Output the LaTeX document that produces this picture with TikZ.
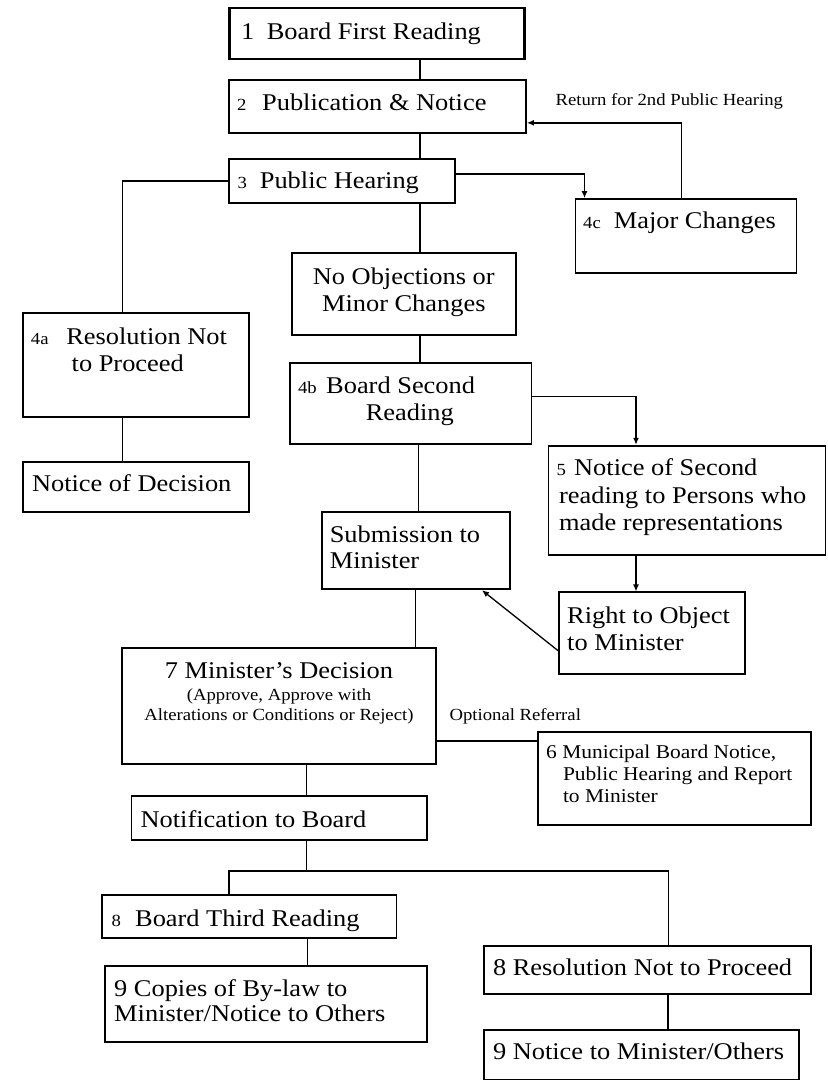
\documentclass[tikz,border=0pt]{standalone}
\usepackage{fontspec}
\setmainfont{Liberation Serif}[FakeStretch=1.1]
\usetikzlibrary{fit,arrows.meta}
\newcommand\bigf{\fontsize{24}{27.5}\selectfont}
\newcommand\midf{\fontsize{19.5}{22}\selectfont}
\newcommand\smf{\fontsize{17}{20}\selectfont}
\begin{document}
\begin{tikzpicture}[x=1pt,y=-1pt,
  box/.style={draw, line width=1.8pt, inner sep=0pt},
  con/.style={line width=1.3pt},
  arr/.style={con, -{Latex[length=7pt,width=6pt]}},
  txt/.style={inner sep=0pt, anchor=base west, font=\bigf},
  ctxt/.style={inner sep=0pt, anchor=base, font=\bigf},
  stxt/.style={inner sep=0pt, anchor=base west, font=\smf},
  mtxt/.style={inner sep=0pt, anchor=base west, font=\midf}]
\useasboundingbox (0,0) rectangle (827,1081);
% boxes
\node[box, line width=2.4pt, fit={(229.5,8.3) (524.6,59.3)}] (b1) {};
\node[box, fit={(229,80) (526,132.7)}] (b2) {};
\node[box, fit={(229,159) (455,203)}] (b3) {};
\node[box, fit={(575.5,199) (796.5,272.7)}] (b4c) {};
\node[box, fit={(292,253.3) (515.6,335)}] (bno) {};
\node[box, fit={(22.8,313.3) (249,417.3)}] (b4a) {};
\node[box, fit={(22.8,461.7) (249,512.3)}] (bnd) {};
\node[box, fit={(290,363) (531.5,444.3)}] (b4b) {};
\node[box, fit={(548.5,445.7) (825.5,555)}] (b5) {};
\node[box, fit={(321.7,512.3) (509.8,589.3)}] (bsub) {};
\node[box, fit={(559,592.3) (744.6,674.3)}] (bright) {};
\node[box, fit={(122,648.3) (436,764.3)}] (b7) {};
\node[box, fit={(538,731.7) (810.8,825)}] (b6) {};
\node[box, fit={(131.4,796) (427,840)}] (bnot) {};
\node[box, fit={(101.7,895) (396.4,938.3)}] (b8a) {};
\node[box, fit={(105,965.7) (427,1041.7)}] (b9a) {};
\node[box, fit={(483.8,946) (810.8,994)}] (b8b) {};
\node[box, fit={(483.8,1030) (798.6,1079.5)}] (b9b) {};
% texts
\node[txt] (t1) at (241,39.3) {1\hspace{12.4pt}Board First Reading};
\node[txt] (t2) at (237,110) {{\smf 2}\hspace{15.6pt}Publication \& Notice};
\node[stxt] (tret) at (555.4,105) {Return for 2nd Public Hearing};
\node[txt] (t3) at (237.4,188.3) {{\smf 3}\hspace{12.9pt}Public Hearing};
\node[txt] (t4c) at (583,228.3) {{\smf 4c}\hspace{13pt}Major Changes};
\node[ctxt] (tno1) at (403.8,284) {No Objections or};
\node[ctxt] (tno2) at (403.8,311.7) {Minor Changes};
\node[txt] (t4a1) at (30.7,344) {{\smf 4a}\hspace{17.8pt}Resolution Not};
\node[txt] (t4a2) at (71.5,371.7) {to Proceed};
\node[txt] (t4b1) at (297.8,393.3) {{\smf 4b}\hspace{9.5pt}Board Second};
\node[txt] (t4b2) at (365.6,420) {Reading};
\node[txt] (tnd) at (31.8,491.7) {Notice of Decision};
\node[txt] (t51) at (556.4,475) {{\smf 5}\hspace{8.2pt}Notice of Second};
\node[txt] (t52) at (559,503.3) {reading to Persons who};
\node[txt] (t53) at (559,530) {made representations};
\node[txt] (ts1) at (329.6,542.3) {Submission to};
\node[txt] (ts2) at (329.6,568.3) {Minister};
\node[txt] (tr1) at (567,623.3) {Right to Object};
\node[txt] (tr2) at (567,650.7) {to Minister};
\node[ctxt] (t71) at (279,678.3) {7 Minister’s Decision};
\node[ctxt, font=\smf] (t72) at (279,700) {(Approve, Approve with};
\node[ctxt, font=\smf] (t73) at (279,720) {Alterations or Conditions or Reject)};
\node[stxt] (topt) at (449.4,720) {Optional Referral};
\node[mtxt] (t61) at (546,758.3) {6 Municipal Board Notice,};
\node[mtxt] (t62) at (562.8,780) {Public Hearing and Report};
\node[mtxt] (t63) at (562.8,802.7) {to Minister};
\node[txt] (tnot) at (140.4,827) {Notification to Board};
\node[txt] (t8a) at (111.3,926) {{\smf 8}\hspace{14.3pt}Board Third Reading};
\node[txt] (t9a1) at (114,996.7) {9 Copies of By-law to};
\node[txt] (t9a2) at (114,1021.7) {Minister/Notice to Others};
\node[txt] (t8b) at (492.8,975) {8 Resolution Not to Proceed};
\node[txt] (t9b) at (492.8,1059.3) {9 Notice to Minister/Others};
% helper coordinates
\coordinate (v420) at (420,0);
\coordinate (v122) at (122.5,0);
\coordinate (v584) at (584.5,0);
\coordinate (v681) at (681.5,0);
\coordinate (v636) at (636,0);
\coordinate (v418) at (418.6,0);
\coordinate (v482) at (482,0);
\coordinate (v416) at (415.5,0);
\coordinate (v306) at (306.3,0);
\coordinate (v229) at (229,0);
\coordinate (v669) at (668.8,0);
\coordinate (v307) at (307.4,0);
\coordinate (v668) at (668,0);
\coordinate (h741) at (0,741);
\coordinate (j) at (306.3,871);
% connectors
\draw[con] (b1.south -| v420) -- (b2.north -| v420);
\draw[con] (b2.south -| v420) -- (b3.north -| v420);
\draw[con] (b3.south -| v420) -- (bno.north -| v420);
\draw[con] (b3.west) -| (b4a.north -| v122);
\draw[arr] ([yshift=7pt]b3.east) -| (b4c.north -| v584);
\draw[arr] (b4c.north -| v681) |- ([yshift=-16.5pt]b2.east);
\draw[con] (bno.south -| v420) -- (b4b.north -| v420);
\draw[con] (b4a.south -| v122) -- (bnd.north -| v122);
\draw[arr] ([yshift=7.5pt]b4b.east) -| (b5.north -| v636);
\draw[con] (b4b.south -| v418) -- (bsub.north -| v418);
\draw[arr] (b5.south -| v636) -- (bright.north -| v636);
\draw[arr] ([yshift=-17.4pt]bright.west) -- (bsub.south -| v482);
\draw[con] (bsub.south -| v416) -- (b7.north -| v416);
\draw[con] (b7.east |- h741) -- (b6.west |- h741);
\draw[con] (b7.south -| v306) -- (bnot.north -| v306);
\draw[con] (bnot.south -| j) -- (j);
\draw[con] (b8a.north -| v229) -- (v229 |- j) -- (v669 |- j) -- (b8b.north -| v669);
\draw[con] (b8a.south -| v307) -- (b9a.north -| v307);
\draw[con] (b8b.south -| v668) -- (b9b.north -| v668);
\end{tikzpicture}
\end{document}
